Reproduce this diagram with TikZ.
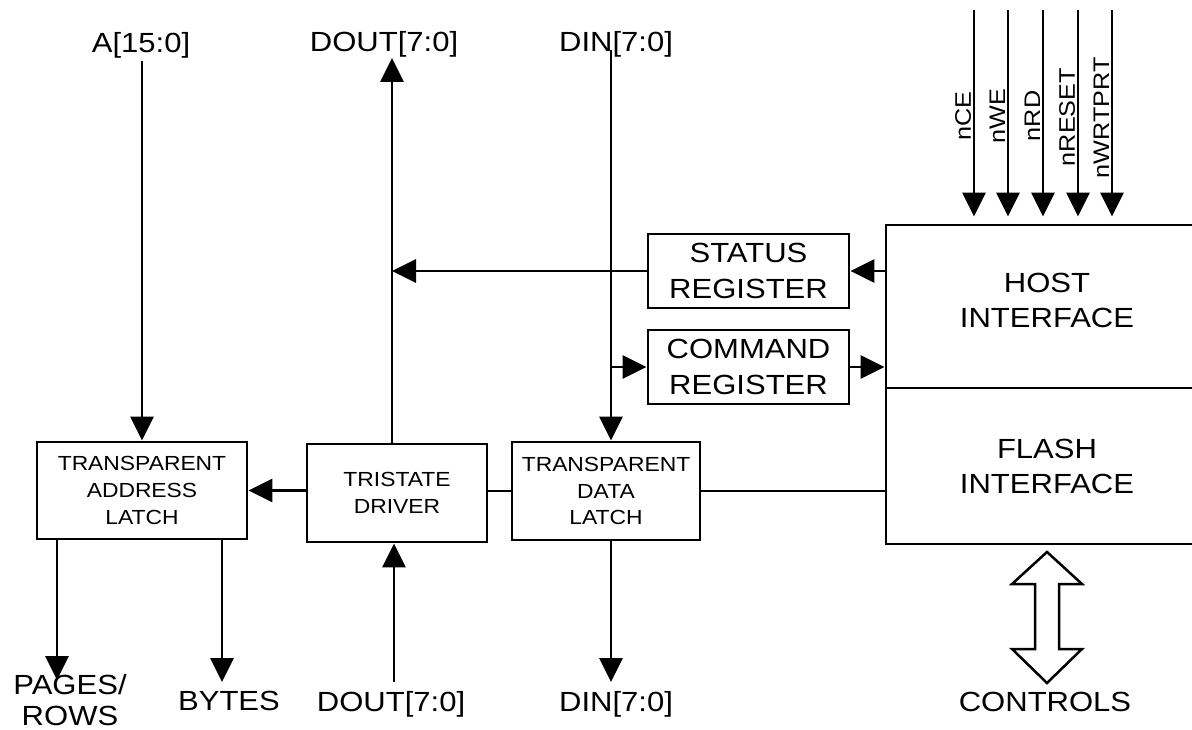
\documentclass[tikz,border=0pt]{standalone}
\usepackage{fontspec}
\setmainfont{Liberation Sans}[FakeStretch=1.12]
\usetikzlibrary{arrows.meta}
\begin{document}
\begin{tikzpicture}[x=1pt,y=-1pt, line width=2.9pt,
  blk/.style={draw, inner sep=0pt, align=center, font=\fontsize{27.7}{36}\selectfont},
  sblk/.style={draw, inner sep=0pt, align=center, font=\fontsize{20.4}{26.7}\selectfont},
  lbl/.style={inner sep=0pt, align=center, font=\fontsize{27.7}{31.5}\selectfont},
  sig/.style={inner sep=0pt, rotate=90, anchor=south, font=\fontsize{22.5}{26}\selectfont},
  arr/.style={-{Triangle[length=24pt,width=23pt]}},
]
\useasboundingbox (0,0) rectangle (1192,730);

% blocks
\node[sblk, minimum width=210pt, minimum height=97pt] (addr) at (142,490.5) {TRANSPARENT\\ADDRESS\\LATCH};
\node[sblk, minimum width=180pt, minimum height=98pt] (tri) at (397,493) {TRISTATE\\DRIVER};
\node[sblk, minimum width=188pt, minimum height=98pt] (data) at (606,491) {TRANSPARENT\\DATA\\LATCH};
\node[blk, minimum width=201pt, minimum height=74pt] (status) at (748.5,271) {STATUS\\REGISTER};
\node[blk, minimum width=201pt, minimum height=74pt] (cmd) at (748.5,367) {COMMAND\\REGISTER};
\node[draw, inner sep=0pt, minimum width=322pt, minimum height=163pt,
  label={[inner sep=0pt, align=center, font=\fontsize{27.7}{35}\selectfont, yshift=6pt]center:HOST\\INTERFACE}] (host) at (1047,306.5) {};
\node[blk, minimum width=322pt, minimum height=156pt, font=\fontsize{27.7}{35}\selectfont] (flash) at (1047,466) {FLASH\\INTERFACE};

% labels
\node[lbl, anchor=base] (alab) at (141,53) {A[15:0]};
\node[lbl, anchor=base] (doutlabt) at (384,52) {DOUT[7:0]};
\node[lbl, anchor=base] (dinlabt) at (616,52) {DIN[7:0]};
\node[lbl] (pglab) at (70,700) {PAGES/\\ROWS};
\node[lbl, anchor=base] (bylab) at (229,710) {BYTES};
\node[lbl, anchor=base] (doutlabb) at (391,711.5) {DOUT[7:0]};
\node[lbl, anchor=base] (dinlabb) at (616,711.5) {DIN[7:0]};
\node[lbl, anchor=base] (ctlab) at (1045,711) {CONTROLS};

\node[sig] (lnce) at (972.5,116) {nCE};
\node[sig] (lnwe) at (1006.5,116) {nWE};
\node[sig] (lnrd) at (1041.5,116) {nRD};
\node[sig] (lnrst) at (1076.5,117) {nRESET};
\node[sig] (lnwp) at (1110.5,118) {nWRTPRT};

% coordinates
\coordinate (nce) at (974,10);
\coordinate (nwe) at (1008,10);
\coordinate (nrd) at (1043,10);
\coordinate (nrst) at (1078,10);
\coordinate (nwp) at (1112,10);
\coordinate (atop) at (142,61);
\coordinate (douttip) at (392,58);
\coordinate (dintop) at (611,50);
\coordinate (dinbot) at (611,682);
\coordinate (doutbot) at (394,682);
\coordinate (pg) at (57,680);
\coordinate (by) at (222,682);

% host control signals
\foreach \s in {nce,nwe,nrd,nrst,nwp}
  \draw[arr, shorten >=7pt] (\s) -- (\s |- host.north);

% connectors
\draw[arr] (atop) -- (atop |- addr.north);
\draw[arr] (douttip |- tri.north) -- (douttip);
\draw[arr] (status.west) -- (status.west -| douttip);
\draw[arr] (status.east -| host.west) -- (status.east);
\draw[arr] (dintop) -- (dintop |- data.north);
\draw[arr] (dintop |- cmd.west) -- (cmd.west);
\draw[arr] (cmd.east) -- (cmd.east -| host.west);
\draw[arr] (dintop |- data.south) -- (dinbot);
\draw[arr] (doutbot) -- (doutbot |- tri.south);
\draw[arr] (pg |- addr.south) -- (pg);
\draw[arr] (by |- addr.south) -- (by);
\draw[arr] (tri.west |- addr.east) -- (addr.east);
\draw (tri.east |- data.west) -- (data.west);
\draw (data.east) -- (data.east -| flash.west);

% controls double arrow
\draw[fill=white, line width=2.5pt, line join=miter]
  (1047,552) -- (1082,584) -- (1059,584) -- (1059,649) -- (1082,649) -- (1047,683)
  -- (1012,649) -- (1035,649) -- (1035,584) -- (1012,584) -- cycle;
\end{tikzpicture}
\end{document}
